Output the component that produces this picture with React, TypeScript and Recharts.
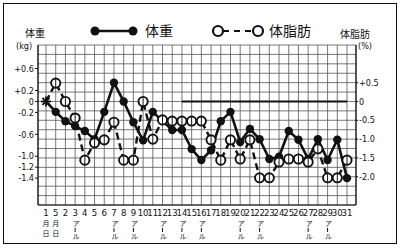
import React from 'react';
import { LineChart, Line, XAxis, YAxis, CartesianGrid, ReferenceLine } from 'recharts';

// ---- data ----
const dayLabels = ['1', '5', '2', '3', '4', '5', '6', '7', '8', '9', '10', '11', '12', '13', '14', '15', '16', '17', '18', '19', '20', '21', '22', '23', '24', '25', '26', '27', '28', '29', '30', '31'];
const dateSubLabels = ['月', '日'];
const weightKg = [0, -0.19, -0.36, -0.45, -0.54, -0.69, -0.19, 0.34, 0, -0.38, -0.71, -0.19, -0.36, -0.52, -0.52, -0.87, -1.07, -0.89, -0.36, -0.19, -0.74, -0.5, -0.69, -1.05, -1.01, -0.54, -0.7, -1.05, -0.69, -1.07, -0.7, -1.4];
const bodyFatPct = [0, 0.49, 0, -0.44, -1.56, -1.1, -1.02, -0.55, -1.56, -1.56, 0, -1.0, -0.49, -0.52, -0.52, -0.52, -0.52, -1.02, -1.56, -1.02, -1.53, -1.02, -2.03, -2.03, -1.61, -1.53, -1.53, -1.61, -1.26, -2.03, -2.03, -1.56];
const alcoholDayIdx = [3, 7, 9, 12, 14, 16, 20, 22, 27, 29];
const alcoholMark = ['ア', '|', 'ル'];
const weightTicks = [0.6, 0.2, 0, -0.2, -0.6, -1.0, -1.2, -1.4];
const fatTicks = [0.5, 0, -0.5, -1.0, -1.5, -2.0];
const gridRowCount = 17;
const seriesNames = { weight: '体重', fat: '体脂肪' };
const axisTitles = { left: '体重', leftUnit: '(kg)', right: '体脂肪', rightUnit: '(%)' };

const data = dayLabels.map((d, i) => ({ id: i, day: d, weight: weightKg[i], fat: bodyFatPct[i] }));

const CJK = "'Noto Sans CJK JP', 'Noto Sans', sans-serif";
const NARROW = "'Liberation Sans Narrow', 'DejaVu Sans Condensed', 'DejaVu Sans', sans-serif";

const fmtSigned = (v: number) => (v > 0 ? '+' + v.toFixed(1) : v === 0 ? '0' : v.toFixed(1));

const gridRowGenerator = (props: any) => {
  const { offset } = props;
  const out: number[] = [];
  for (let k = 0; k <= gridRowCount; k++) out.push(offset.top + (k * offset.height) / gridRowCount);
  return out;
};

function renderDayTick(props: any) {
  const { x, y, payload } = props;
  const i = payload.value as number;
  const items: any[] = [];
  items.push(
    <text key="n" x={x} y={y + 11} textAnchor="middle" fontSize={9.5} fontFamily={NARROW} fill="#111">
      {dayLabels[i]}
    </text>
  );
  if (i < 2) {
    items.push(
      <text key="m" x={x} y={y + 21} textAnchor="middle" fontSize={7} fontFamily={CJK} fill="#111">{dateSubLabels[0]}</text>,
      <text key="d" x={x} y={y + 31} textAnchor="middle" fontSize={7} fontFamily={CJK} fill="#111">{dateSubLabels[1]}</text>
    );
  }
  if (alcoholDayIdx.includes(i)) {
    items.push(
      <text key="a" x={x + 1} y={y + 21} textAnchor="middle" fontSize={7} fontFamily={CJK} fill="#111">{alcoholMark[0]}</text>,
      <line key="b" x1={x} x2={x} y1={y + 23} y2={y + 27} stroke="#111" strokeWidth={1} />,
      <text key="c" x={x + 1} y={y + 34} textAnchor="middle" fontSize={7} fontFamily={CJK} fill="#111">{alcoholMark[2]}</text>
    );
  }
  return <g>{items}</g>;
}

function WeightDot(props: any) {
  const { cx, cy, index } = props;
  if (cx == null || cy == null) return <g />;
  if (index === 0) {
    const rays = [0, 45, 90, 135].map((a) => {
      const r = (a * Math.PI) / 180;
      return (
        <line key={a} x1={cx - 5 * Math.cos(r)} y1={cy - 5 * Math.sin(r)} x2={cx + 5 * Math.cos(r)} y2={cy + 5 * Math.sin(r)} stroke="#111" strokeWidth={1.8} />
      );
    });
    return <g>{rays}</g>;
  }
  return <circle cx={cx} cy={cy} r={4.2} fill="#111" stroke="none" />;
}

function FatDot(props: any) {
  const { cx, cy, index } = props;
  if (cx == null || cy == null || index === 0) return <g />;
  return (
    <g>
      <circle cx={cx} cy={cy} r={4.6} fill="#fff" stroke="#111" strokeWidth={1.9} />
      <line x1={cx} x2={cx} y1={cy - 4} y2={cy + 4} stroke="#111" strokeWidth={1} />
    </g>
  );
}

export default function App() {
  return (
    <div style={{ position: 'absolute', left: 0, top: 0, width: 402, height: 252, background: '#fff', overflow: 'hidden' }}>
      <div style={{ position: 'absolute', left: 3, top: 3, width: 394, height: 241, border: '1.5px solid #111', boxSizing: 'border-box' }} />
      <LineChart width={402} height={252} data={data} margin={{ top: 45, right: 0, bottom: 0, left: 0 }} style={{ position: 'absolute', left: 0, top: 0 }}>
        <CartesianGrid stroke="#555" strokeWidth={0.8} horizontalCoordinatesGenerator={gridRowGenerator} />
        <XAxis
          dataKey="id"
          type="category"
          interval={0}
          padding={{ left: 8, right: 9 }}
          height={47}
          tickLine={false}
          tickSize={0}
          tickMargin={0}
          axisLine={{ stroke: '#111', strokeWidth: 1.2 }}
          tick={renderDayTick}
        />
        <YAxis
          yAxisId="kg"
          orientation="left"
          width={38}
          domain={[-1.89, 1.03]}
          ticks={weightTicks}
          interval={0}
          tickFormatter={fmtSigned}
          tickSize={3}
          tickMargin={1}
          tick={{ fontSize: 9, fill: '#111', fontFamily: NARROW }}
          axisLine={{ stroke: '#111', strokeWidth: 1.2 }}
          tickLine={{ stroke: '#111' }}
        />
        <YAxis
          yAxisId="pct"
          orientation="right"
          width={46}
          domain={[-2.753, 1.503]}
          ticks={fatTicks}
          interval={0}
          tickFormatter={fmtSigned}
          tickSize={2}
          tickMargin={1}
          tick={{ fontSize: 9, fill: '#111', fontFamily: NARROW }}
          axisLine={{ stroke: '#111', strokeWidth: 1.2 }}
          tickLine={{ stroke: '#111' }}
        />
        <ReferenceLine yAxisId="pct" segment={[{ x: 14, y: 0 }, { x: 31, y: 0 }]} stroke="#111" strokeWidth={2.2} />
        <Line yAxisId="kg" dataKey="weight" name={seriesNames.weight} stroke="#111" strokeWidth={2.6} dot={WeightDot} activeDot={false} isAnimationActive={false} />
        <Line yAxisId="pct" dataKey="fat" name={seriesNames.fat} stroke="#111" strokeWidth={2.4} strokeDasharray="7 4" dot={FatDot} activeDot={false} isAnimationActive={false} />
      </LineChart>
      {/* legend and axis titles */}
      <svg width={402} height={60} style={{ position: 'absolute', left: 0, top: 0 }}>
        <line x1={95} x2={133} y1={31} y2={31} stroke="#111" strokeWidth={2.5} />
        <circle cx={95} cy={31} r={4.5} fill="#111" />
        <circle cx={133} cy={31} r={4.5} fill="#111" />
        <text x={145} y={36} fontSize={14} fontFamily={CJK} fill="#111">{seriesNames.weight}</text>
        <line x1={223} x2={253} y1={31} y2={31} stroke="#111" strokeWidth={2.2} strokeDasharray="6 5" />
        <circle cx={218} cy={31} r={5} fill="#fff" stroke="#111" strokeWidth={2.2} />
        <circle cx={258} cy={31} r={5} fill="#fff" stroke="#111" strokeWidth={2.2} />
        <text x={269} y={36} fontSize={14} fontFamily={CJK} fill="#111">{seriesNames.fat}</text>
        <text x={25} y={37} fontSize={10} fontFamily={CJK} fill="#111">{axisTitles.left}</text>
        <text x={16} y={49} fontSize={9} fontFamily={NARROW} fill="#111">{axisTitles.leftUnit}</text>
        <text x={340} y={38} fontSize={10} fontFamily={CJK} fill="#111">{axisTitles.right}</text>
        <text x={358} y={49} fontSize={9} fontFamily={NARROW} fill="#111">{axisTitles.rightUnit}</text>
      </svg>
    </div>
  );
}
